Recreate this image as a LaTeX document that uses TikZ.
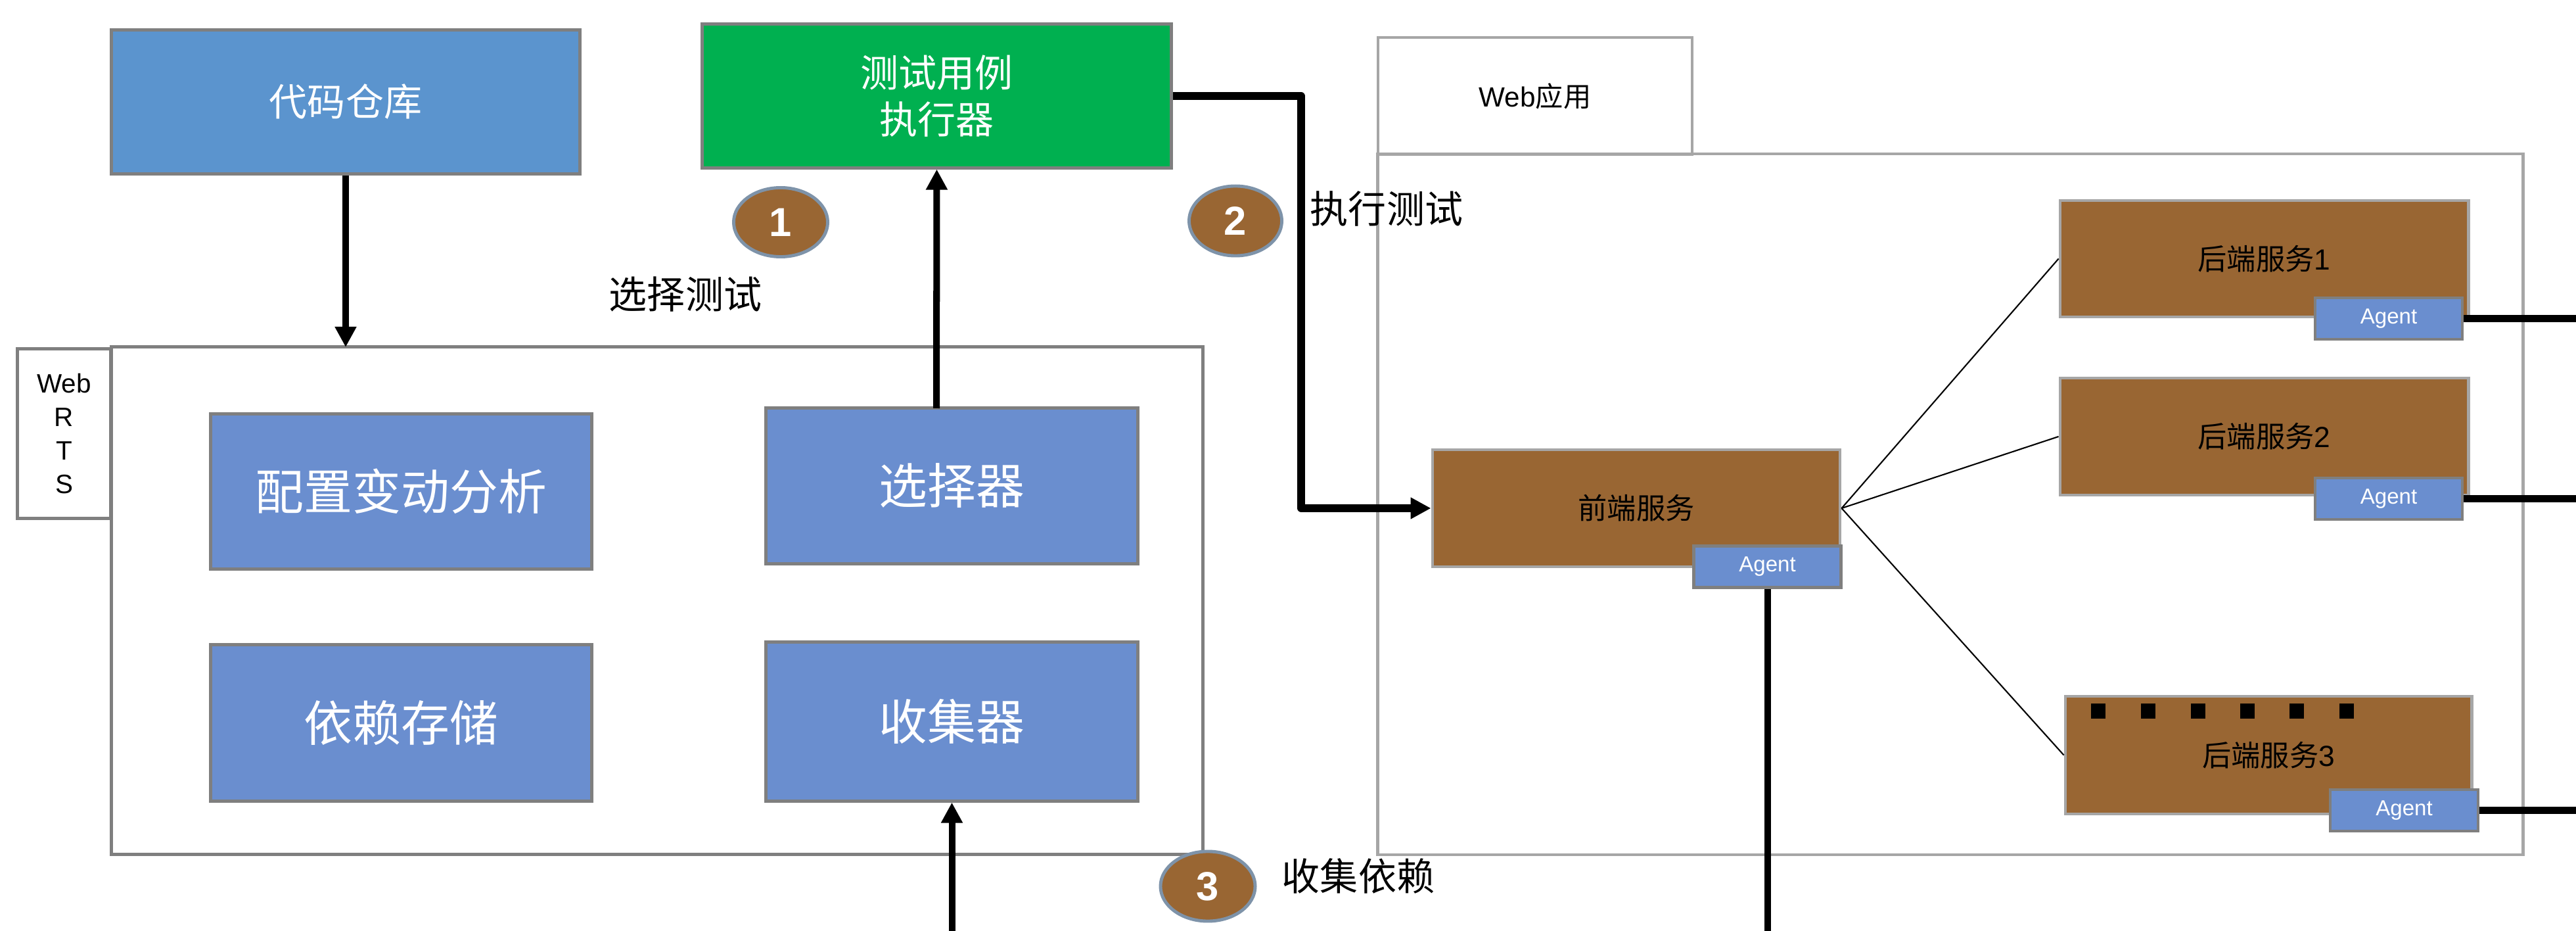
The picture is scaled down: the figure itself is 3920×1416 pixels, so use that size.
\documentclass[tikz,border=0pt]{standalone}
\usepackage{fontspec}
\setmainfont{Liberation Sans}
\newfontfamily\cjk{Noto Sans CJK SC}
\usetikzlibrary{arrows.meta,shapes.geometric}
\definecolor{codeblue}{HTML}{5B94CE}
\definecolor{boxblue}{HTML}{6A8ECF}
\definecolor{exgreen}{HTML}{00B050}
\definecolor{brownsvc}{HTML}{996633}
\definecolor{darkgr}{HTML}{7F7F7F}
\definecolor{lightgr}{HTML}{A6A6A6}
\definecolor{ringblue}{HTML}{7E93A9}
\begin{document}
\begin{tikzpicture}[x=0.01cm,y=-0.01cm,
  bx/.style={draw=darkgr, line width=1.4pt, inner sep=0pt, align=center},
  bigtext/.style={font=\fontsize{16.5}{20.2}\selectfont\cjk, text=white},
  hugetext/.style={font=\fontsize{21}{25}\selectfont\cjk, text=white},
  svc/.style={draw=lightgr, line width=1.3pt, fill=brownsvc, inner sep=0pt,
    minimum width=6.2cm, minimum height=1.78cm, font=\fontsize{12.6}{15}\selectfont},
  agent/.style={draw=darkgr, line width=1.3pt, fill=boxblue, inner sep=0pt,
    minimum width=2.24cm, minimum height=0.63cm, text=white, font=\fontsize{9.4}{11}\selectfont},
  badge/.style={ellipse, draw=ringblue, line width=1.4pt, fill=brownsvc, inner sep=0pt,
    minimum width=1.43cm, minimum height=1.05cm, text=white, font=\fontsize{17.5}{20}\selectfont\bfseries},
  lbl/.style={font=\fontsize{16.5}{20}\selectfont\cjk, inner sep=0pt},
  thickarrow/.style={line width=2.85pt, -{Triangle[length=0.31cm,width=0.31cm]}},
  thickline/.style={line width=2.85pt},
  fan/.style={line width=0.6pt}]
\useasboundingbox (0,0) rectangle (3920,1416);

% Web application container
\node[draw=lightgr, line width=1.2pt, minimum width=17.42cm, minimum height=10.66cm, inner sep=0pt] (webapp) at (2968,767) {};
\node[draw=lightgr, line width=1.2pt, minimum width=4.78cm, minimum height=1.78cm, inner sep=0pt,
  font=\fontsize{12}{14}\selectfont] (tab) at (2336,146) {Web{\cjk 应用}};

% WebRTS container
\node[bx, minimum width=16.6cm, minimum height=7.71cm] (webrts) at (1000,913.5) {};
\node[bx, minimum width=1.41cm, minimum height=2.57cm, font=\fontsize{11.5}{14.5}\selectfont] (rtslabel) at (97.5,659.5) {Web\\R\\T\\S};

% top boxes
\node[bx, fill=codeblue, minimum width=7.12cm, minimum height=2.18cm, bigtext] (code) at (526,155) {代码仓库};
\node[bx, fill=exgreen, minimum width=7.13cm, minimum height=2.18cm, bigtext] (exec) at (1425.5,146) {测试用例\\执行器};

% inner boxes
\node[bx, fill=boxblue, minimum width=5.79cm, minimum height=2.35cm, hugetext] (cfg) at (610.5,747.5) {配置变动分析};
\node[bx, fill=boxblue, minimum width=5.65cm, minimum height=2.36cm, hugetext] (sel) at (1448.5,739) {选择器};
\node[bx, fill=boxblue, minimum width=5.79cm, minimum height=2.37cm, hugetext] (dep) at (610.5,1099.5) {依赖存储};
\node[bx, fill=boxblue, minimum width=5.65cm, minimum height=2.41cm, hugetext] (col) at (1448.5,1097.5) {收集器};

% services
\node[svc] (fe) at (2490,773) {{\cjk 前端服务}};
\node[agent] (feag) at (2689.5,862) {Agent};
\node[svc, minimum width=6.21cm, minimum height=1.77cm] (be1) at (3445.5,393.5) {{\cjk 后端服务}1};
\node[agent] (be1ag) at (3635,484.5) {Agent};
\node[svc, minimum width=6.21cm] (be2) at (3445.5,664) {{\cjk 后端服务}2};
\node[agent] (be2ag) at (3635,758.5) {Agent};
\node[svc, minimum width=6.18cm, minimum height=1.79cm] (be3) at (3452,1148.5) {{\cjk 后端服务}3};
\node[agent, minimum width=2.25cm] (be3ag) at (3658.5,1232.5) {Agent};
\foreach \sx in {3193,3268.5,3344.5,3419.5,3495,3570.5}
  \fill[black] (\sx-11,1070) rectangle (\sx+11,1093);

% badges and labels
\node[badge] (b1) at (1188,338) {1};
\node[badge, minimum width=1.41cm, minimum height=1.06cm] (b2) at (1880,336) {2};
\node[badge, minimum width=1.44cm, minimum height=1.06cm] (b3) at (1838,1348) {3};
\node[lbl] (t1) at (1043,448) {选择测试};
\node[lbl] (t2) at (2110,318) {执行测试};
\node[lbl] (t3) at (2067,1332) {收集依赖};

% coordinates for free ends and bends
\coordinate (selTop) at (1425,621);
\coordinate (codeArr) at (526,528);
\coordinate (colBot) at (1448.5,1416);
\coordinate (bendA) at (1980,146);
\coordinate (bendB) at (1980,773);
\coordinate (feDown) at (2689.5,1416);
\coordinate (r1) at (3920,484.5);
\coordinate (r2) at (3920,758.5);
\coordinate (r3) at (3920,1232.5);

% connectors
\draw[thickarrow] (code.south) -- (codeArr);
\draw[thickarrow] (selTop) -- (exec.south);
\draw[thickarrow] (colBot) -- (col.south);
\draw[thickarrow, line width=3.2pt, line join=round] (exec.east) -- (bendA) -- (bendB) -- (fe.west);
\draw[fan] (fe.east) -- (be1.west);
\draw[fan] (fe.east) -- (be2.west);
\draw[fan] (fe.east) -- (be3.west);
\draw[thickline] (feag.south) -- (feDown);
\draw[thickline] (be1ag.east) -- (r1);
\draw[thickline] (be2ag.east) -- (r2);
\draw[thickline] (be3ag.east) -- (r3);
\end{tikzpicture}
\end{document}
